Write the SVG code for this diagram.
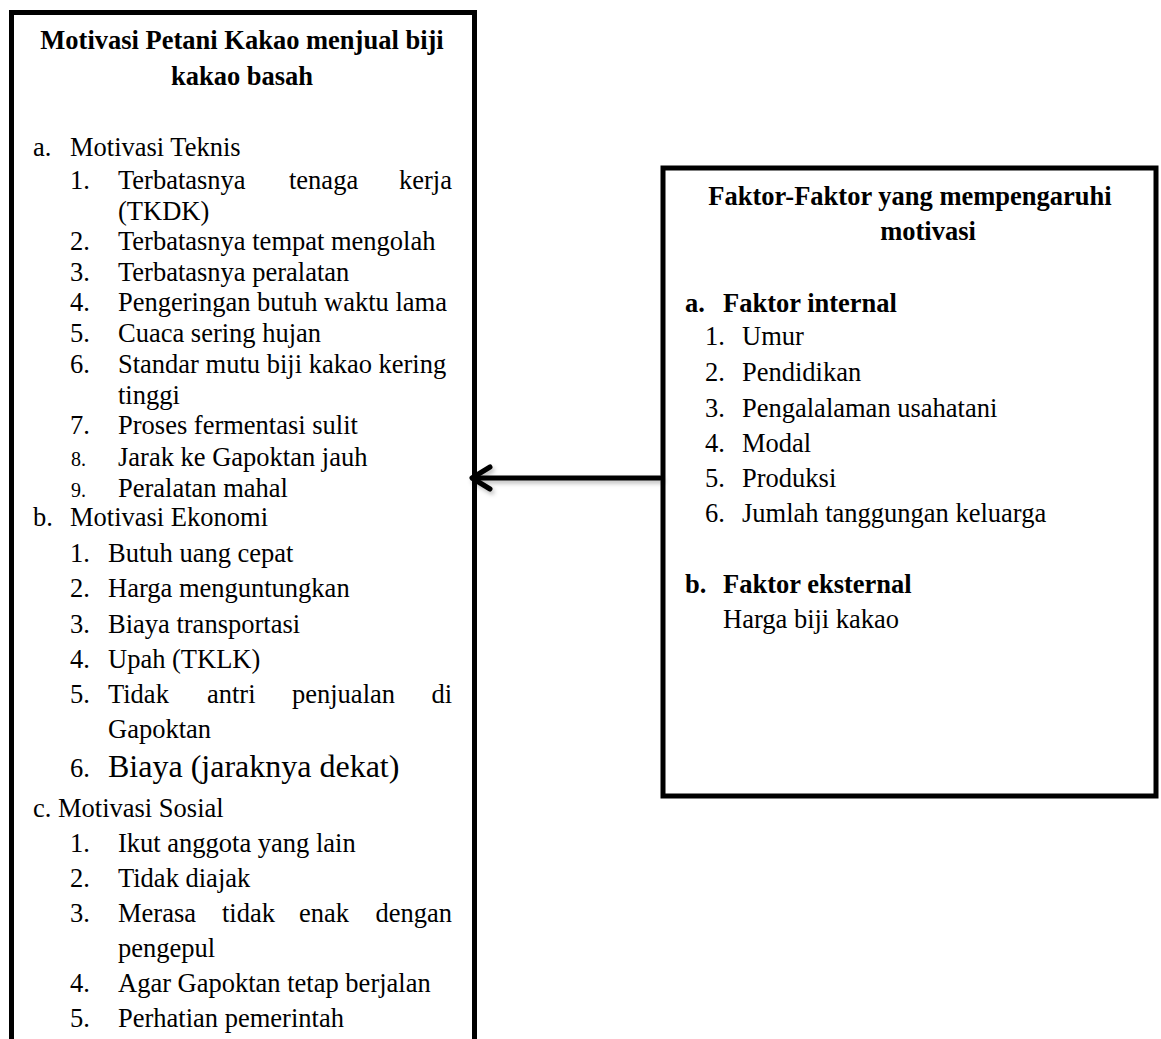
<svg xmlns="http://www.w3.org/2000/svg" width="1161" height="1039" viewBox="0 0 1161 1039">
<style>
  text { font-family: "Liberation Serif", "Times New Roman", serif; font-size: 26.5px; fill: #000; }
  .b { font-weight: bold; }
  .c { text-anchor: middle; }
  .e { text-anchor: end; }
  .sm { font-size: 20px; }
  .lg { font-size: 32px; }
  .box { fill: #fff; stroke: #000; stroke-width: 5; }
  .conn { fill: none; stroke: #000; stroke-width: 5; stroke-linecap: round; stroke-linejoin: round; }
</style>
<defs>
  <filter id="shadow" x="-10%" y="-50%" width="120%" height="200%">
    <feDropShadow dx="2" dy="3" stdDeviation="2" flood-color="#000" flood-opacity="0.25"/>
  </filter>
</defs>
<rect width="1161" height="1039" fill="#fff"/>

<g id="node-motivasi">
  <rect class="box" x="11.5" y="12.5" width="463" height="1045"/>
  <text class="b c" x="242" y="49">Motivasi Petani Kakao menjual biji</text>
  <text class="b c" x="242" y="85">kakao basah</text>

  <text x="33" y="156">a.</text><text x="70" y="156">Motivasi Teknis</text>
  <text x="70" y="189">1.</text><text x="118" y="189">Terbatasnya</text><text x="289" y="189">tenaga</text><text class="e" x="452" y="189">kerja</text>
  <text x="118" y="220">(TKDK)</text>
  <text x="70" y="250">2.</text><text x="118" y="250">Terbatasnya tempat mengolah</text>
  <text x="70" y="281">3.</text><text x="118" y="281">Terbatasnya peralatan</text>
  <text x="70" y="311">4.</text><text x="118" y="311">Pengeringan butuh waktu lama</text>
  <text x="70" y="342">5.</text><text x="118" y="342">Cuaca sering hujan</text>
  <text x="70" y="373">6.</text><text x="118" y="373">Standar mutu biji kakao kering</text>
  <text x="118" y="404">tinggi</text>
  <text x="70" y="434">7.</text><text x="118" y="434">Proses fermentasi sulit</text>
  <text class="sm" x="71" y="466">8.</text><text x="118" y="466">Jarak ke Gapoktan jauh</text>
  <text class="sm" x="71" y="497">9.</text><text x="118" y="497">Peralatan mahal</text>

  <text x="33" y="526">b.</text><text x="70" y="526">Motivasi Ekonomi</text>
  <text x="70" y="562">1.</text><text x="108" y="562">Butuh uang cepat</text>
  <text x="70" y="597">2.</text><text x="108" y="597">Harga menguntungkan</text>
  <text x="70" y="633">3.</text><text x="108" y="633">Biaya transportasi</text>
  <text x="70" y="668">4.</text><text x="108" y="668">Upah (TKLK)</text>
  <text x="70" y="703">5.</text><text x="108" y="703">Tidak</text><text x="207" y="703">antri</text><text x="292" y="703">penjualan</text><text class="e" x="452" y="703">di</text>
  <text x="108" y="738">Gapoktan</text>
  <text x="70" y="777">6.</text><text class="lg" x="108" y="777">Biaya (jaraknya dekat)</text>

  <text x="33" y="817">c. Motivasi Sosial</text>
  <text x="70" y="852">1.</text><text x="118" y="852">Ikut anggota yang lain</text>
  <text x="70" y="887">2.</text><text x="118" y="887">Tidak diajak</text>
  <text x="70" y="922">3.</text><text x="118" y="922">Merasa</text><text x="222" y="922">tidak</text><text x="299" y="922">enak</text><text class="e" x="452" y="922">dengan</text>
  <text x="118" y="957">pengepul</text>
  <text x="70" y="992">4.</text><text x="118" y="992">Agar Gapoktan tetap berjalan</text>
  <text x="70" y="1027">5.</text><text x="118" y="1027">Perhatian pemerintah</text>
</g>

<g id="node-faktor">
  <rect class="box" x="663" y="168" width="493" height="628"/>
  <text class="b c" x="910" y="205">Faktor-Faktor yang mempengaruhi</text>
  <text class="b c" x="928" y="240">motivasi</text>

  <text class="b" x="685" y="312">a.</text><text class="b" x="723" y="312">Faktor internal</text>
  <text x="705" y="345">1.</text><text x="742" y="345">Umur</text>
  <text x="705" y="381">2.</text><text x="742" y="381">Pendidikan</text>
  <text x="705" y="417">3.</text><text x="742" y="417">Pengalalaman usahatani</text>
  <text x="705" y="452">4.</text><text x="742" y="452">Modal</text>
  <text x="705" y="487">5.</text><text x="742" y="487">Produksi</text>
  <text x="705" y="522">6.</text><text x="742" y="522">Jumlah tanggungan keluarga</text>

  <text class="b" x="685" y="593">b.</text><text class="b" x="723" y="593">Faktor eksternal</text>
  <text x="723" y="628">Harga biji kakao</text>
</g>

<g id="connectors" filter="url(#shadow)">
  <line class="conn" x1="660" y1="478" x2="473" y2="478"/>
  <polyline class="conn" points="490,467 472,478 490,489"/>
</g>
</svg>
